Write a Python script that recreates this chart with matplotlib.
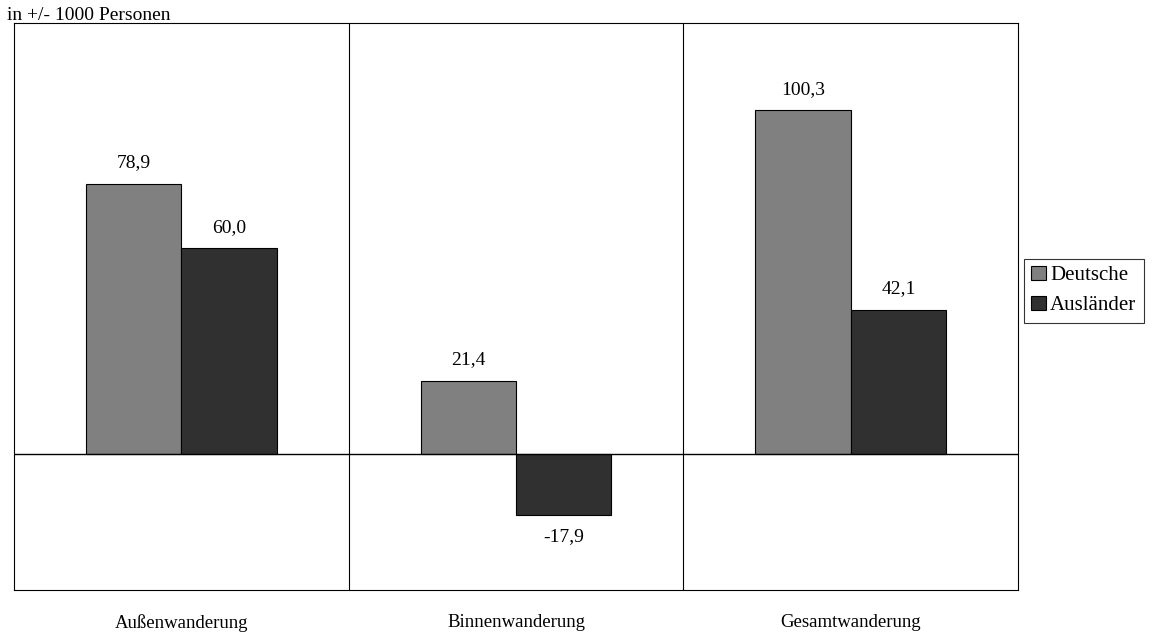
import numpy as np
import matplotlib.pyplot as plt

plt.rcParams['font.family'] = ['Liberation Serif', 'DejaVu Serif']

categories = ['Außenwanderung', 'Binnenwanderung', 'Gesamtwanderung']
deutsche = [78.9, 21.4, 100.3]
auslaender = [60.0, -17.9, 42.1]
series_names = ['Deutsche', 'Ausländer']

fig = plt.figure(figsize=(11.58, 6.36), dpi=100)
ax = fig.add_axes([0.0121, 0.0723, 0.8670, 0.8915])

x = np.arange(len(categories))
w = 0.285
b1 = ax.bar(x - w / 2, deutsche, w, color='#808080', edgecolor='black', linewidth=0.8, label=series_names[0])
b2 = ax.bar(x + w / 2, auslaender, w, color='#303030', edgecolor='black', linewidth=0.8, label=series_names[1])

def fmt(v):
    return f'{v:.1f}'.replace('.', ',')

for bars in (b1, b2):
    for rect in bars:
        v = rect.get_height()
        cx = rect.get_x() + rect.get_width() / 2
        if v >= 0:
            ax.annotate(fmt(v), (cx, v), xytext=(0, 9), textcoords='offset points',
                        ha='center', va='bottom', fontsize=14)
        else:
            ax.annotate(fmt(v), (cx, v), xytext=(0, -9), textcoords='offset points',
                        ha='center', va='top', fontsize=14)

ax.set_xlim(-0.5, 2.5)
ax.set_ylim(-39.7, 125.8)
ax.axhline(0, color='black', linewidth=1)
for sep in [0.5, 1.5]:
    ax.axvline(sep, color='black', linewidth=0.8)
for s in ax.spines.values():
    s.set_linewidth(0.8)

ax.set_xticks(x)
ax.set_xticklabels(categories, fontsize=13.5)
ax.tick_params(axis='x', length=0, pad=17)
ax.set_yticks([])

fig.text(0.006, 0.976, 'in +/- 1000 Personen', fontsize=14, ha='left', va='center')

leg = ax.legend(loc='center left', bbox_to_anchor=(1.002, 0.528), fontsize=15, frameon=True,
                fancybox=False, edgecolor='black', handlelength=0.7, handleheight=0.7,
                handletextpad=0.2, borderpad=0.35, labelspacing=0.5, borderaxespad=0.2)
leg.get_frame().set_linewidth(0.8)

fig.savefig('out.png', dpi=100)
